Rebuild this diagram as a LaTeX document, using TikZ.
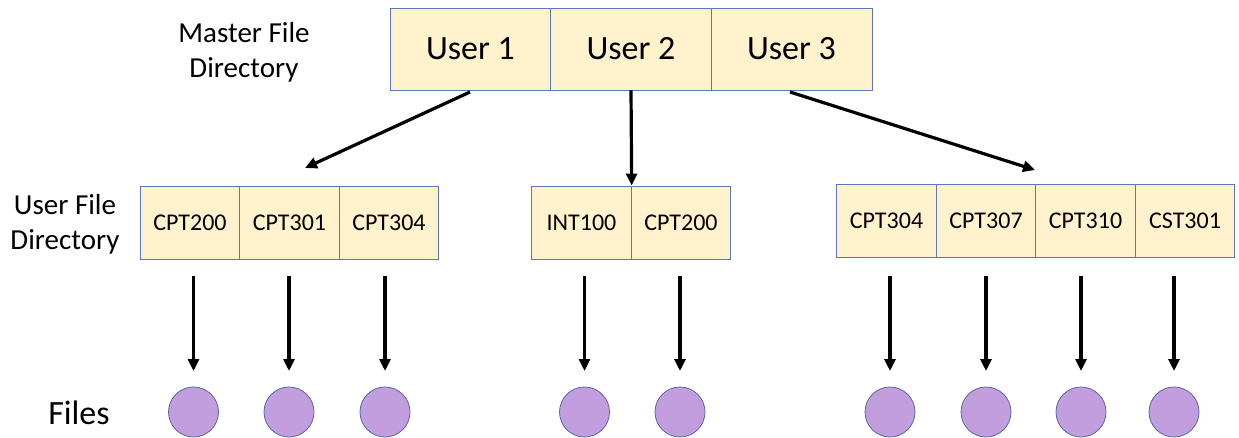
\documentclass[tikz,border=0pt]{standalone}
\usepackage{fontspec}
\setmainfont{Carlito}
\usetikzlibrary{arrows.meta}
\definecolor{cellfill}{HTML}{FFF2CC}
\definecolor{celledge}{HTML}{5A78B4}
\definecolor{filefill}{HTML}{C39EDE}
\definecolor{fileedge}{HTML}{5468A4}
\tikzset{
  mcell/.style={draw=celledge, fill=cellfill, line width=0.9pt, inner sep=0pt,
    minimum width=161pt, minimum height=82pt, font=\fontsize{34}{40}\selectfont},
  ucell/.style={draw=celledge, fill=cellfill, line width=0.9pt, inner sep=0pt,
    minimum width=99.5pt, minimum height=73pt, font=\fontsize{24}{28}\selectfont},
  filec/.style={circle, draw=fileedge, fill=filefill, line width=0.8pt,
    minimum size=50pt, inner sep=0pt},
  lbl/.style={align=center, font=\fontsize{29}{35}\selectfont},
  arr/.style={line width=3.2pt, -{Triangle[length=12pt,width=11pt]}},
}
\begin{document}
\begin{tikzpicture}[x=1pt,y=-1pt]
\useasboundingbox (0,0) rectangle (1239,437);
% master file directory
\node[mcell] (u1) at (470.5,49) {User 1};
\node[mcell] (u2) at (631,49) {User 2};
\node[mcell] (u3) at (791.5,49) {User 3};
\node[lbl] (mfd) at (244,52) {Master File\\Directory};
% user file directories
\node[ucell] (a1) at (190,222.5) {CPT200};
\node[ucell] (a2) at (289.5,222.5) {CPT301};
\node[ucell] (a3) at (389,222.5) {CPT304};
\node[ucell] (b1) at (581.5,222.5) {INT100};
\node[ucell] (b2) at (681,222.5) {CPT200};
\node[ucell] (c1) at (886.5,221) {CPT304};
\node[ucell] (c2) at (986,221) {CPT307};
\node[ucell] (c3) at (1085.5,221) {CPT310};
\node[ucell] (c4) at (1185,221) {CST301};
\node[lbl] (ufd) at (65,224) {User File\\Directory};
% files
\node[font=\fontsize{34}{40}\selectfont] (fl) at (79,413) {Files};
\foreach \n/\x in {f1/193.5,f2/289,f3/385,f4/584.5,f5/680,f6/890,f7/986,f8/1081,f9/1174}{
  \node[filec] (\n) at (\x,412) {};
  \coordinate (s\n) at (\x,276);
  \coordinate (e\n) at (\x,371);
}
% arrows from master entries
\coordinate (t1) at (470,92);
\coordinate (h1) at (305,168);
\coordinate (t3) at (790,92);
\coordinate (h3) at (1035,170);
\draw[arr] (t1) -- (h1);
\draw[arr] (u2.south) -- (b1.north east);
\draw[arr] (t3) -- (h3);
% arrows to files
\foreach \n in {f1,f2,f3,f4,f5,f6,f7,f8,f9}
  \draw[arr] (s\n) -- (e\n);
\end{tikzpicture}
\end{document}
